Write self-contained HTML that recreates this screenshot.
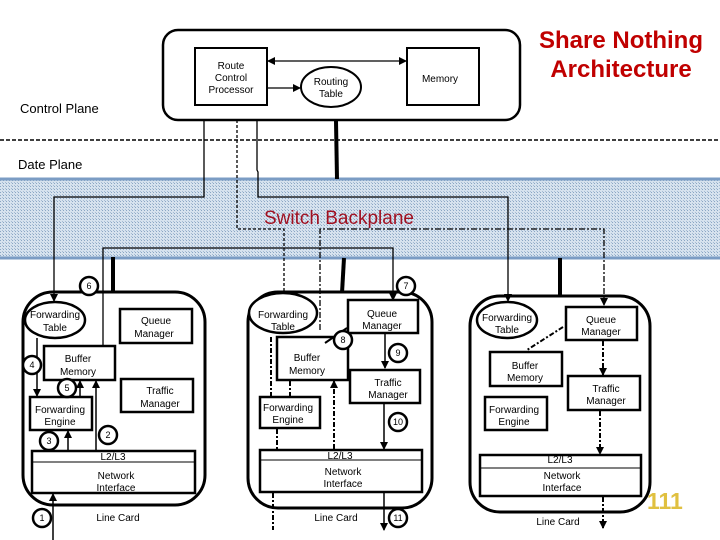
<!DOCTYPE html>
<html><head><meta charset="utf-8"><style>
html,body{margin:0;padding:0;background:#fff;width:720px;height:540px;overflow:hidden}
svg{display:block;font-family:"Liberation Sans",sans-serif}
</style></head><body>
<svg width="720" height="540" viewBox="0 0 720 540" xmlns="http://www.w3.org/2000/svg">
<defs>
<pattern id="h" width="3" height="3" patternUnits="userSpaceOnUse"><rect width="3" height="3" fill="#d6e2ee"/><rect width="1" height="1" fill="#8aa6c4"/><rect x="2" y="2" width="1" height="1" fill="#a6bcd4"/></pattern>
<marker id="a" markerWidth="8" markerHeight="8" refX="7" refY="4" orient="auto" markerUnits="userSpaceOnUse"><path d="M0,0 L8,4 L0,8 z" fill="#000"/></marker>
<marker id="s" markerWidth="8" markerHeight="8" refX="1" refY="4" orient="auto" markerUnits="userSpaceOnUse"><path d="M8,0 L0,4 L8,8 z" fill="#000"/></marker>
</defs>
<rect x="-2" y="179" width="724" height="79" fill="url(#h)" stroke="#7b9cc4" stroke-width="3"/>
<text x="264" y="224" font-size="19" fill="#a01020">Switch Backplane</text>
<rect x="163" y="30" width="357" height="90" rx="15" fill="#fff" stroke="#000" stroke-width="2.5"/>
<rect x="195" y="48" width="72" height="57" fill="none" stroke="#000" stroke-width="2"/>
<text font-size="10" text-anchor="middle"><tspan x="231" y="69">Route</tspan><tspan x="231" y="81">Control</tspan><tspan x="231" y="93">Processor</tspan></text>
<ellipse cx="331" cy="87" rx="30" ry="20" fill="none" stroke="#000" stroke-width="2"/>
<text font-size="10" text-anchor="middle"><tspan x="331" y="85">Routing</tspan><tspan x="331" y="97">Table</tspan></text>
<rect x="407" y="48" width="72" height="57" fill="none" stroke="#000" stroke-width="2"/>
<text x="440" y="82" font-size="10" text-anchor="middle">Memory</text>
<line x1="268" y1="61" x2="406" y2="61" stroke="#000" stroke-width="1.2" marker-end="url(#a)" marker-start="url(#s)"/>
<line x1="268" y1="88" x2="300" y2="88" stroke="#000" stroke-width="1.2" marker-end="url(#a)"/>
<text x="20" y="113" font-size="13">Control Plane</text>
<line x1="0" y1="140" x2="720" y2="140" stroke="#000" stroke-width="1.5" stroke-dasharray="4,2"/>
<text x="18" y="169" font-size="13">Date Plane</text>
<text font-size="24" font-weight="bold" fill="#c00000" text-anchor="middle"><tspan x="621" y="48">Share Nothing</tspan><tspan x="621" y="77">Architecture</tspan></text>
<line x1="336" y1="121" x2="337" y2="179" stroke="#000" stroke-width="4"/>
<g fill="none" stroke="#000" stroke-width="1.3">
<polyline points="204,120 204,197 54,197 54,301" marker-end="url(#a)"/>
<polyline points="237,120 237,229 284,229 284,300" stroke-dasharray="3,2" marker-end="url(#a)"/>
<polyline points="257,120 257,170 258,172 258,197 508,197 508,301" marker-end="url(#a)"/>
<polyline points="103,345 103,248 393,248 393,300" marker-end="url(#a)"/>
<polyline points="320,330 320,229 604,229 604,305" stroke-dasharray="6,2,2,2" marker-end="url(#a)"/>
</g>
<g stroke="#000" stroke-width="4">
<line x1="113" y1="257" x2="113" y2="293"/><line x1="344" y1="258" x2="342" y2="293"/><line x1="560" y1="258" x2="560" y2="297"/>
</g>
<g fill="none" stroke="#000" stroke-width="3">
<rect x="23" y="292" width="182" height="213" rx="30"/>
<rect x="248" y="292" width="184" height="216" rx="30"/>
<rect x="470" y="296" width="180" height="216" rx="30"/>
</g>
<g fill="#fff" stroke="#000" stroke-width="2.5">
<ellipse cx="55" cy="320" rx="30" ry="18"/>
<rect x="120" y="309" width="72" height="34"/>
<rect x="44" y="346" width="71" height="34"/>
<rect x="121" y="379" width="72" height="33"/>
<rect x="30" y="397" width="62" height="33"/>
<rect x="32" y="451" width="163" height="42"/>
<ellipse cx="283" cy="313" rx="34" ry="20"/>
<rect x="348" y="300" width="70" height="33"/>
<rect x="277" y="337" width="71" height="43"/>
<rect x="350" y="370" width="70" height="33"/>
<rect x="260" y="397" width="60" height="31"/>
<rect x="260" y="450" width="162" height="42"/>
<ellipse cx="507" cy="320" rx="30" ry="18"/>
<rect x="566" y="307" width="71" height="33"/>
<rect x="490" y="352" width="72" height="34"/>
<rect x="568" y="376" width="72" height="34"/>
<rect x="485" y="397" width="62" height="33"/>
<rect x="480" y="455" width="161" height="41"/>
</g>
<g stroke="#000" stroke-width="1"><line x1="33" y1="462" x2="194" y2="462"/><line x1="261" y1="460" x2="421" y2="460"/><line x1="481" y1="468" x2="640" y2="468"/></g>
<g font-size="10" text-anchor="middle">
<text><tspan x="55" y="318">Forwarding</tspan><tspan x="55" y="331">Table</tspan></text>
<text><tspan x="156" y="324">Queue</tspan><tspan x="154" y="337">Manager</tspan></text>
<text><tspan x="78" y="362">Buffer</tspan><tspan x="78" y="375">Memory</tspan></text>
<text><tspan x="160" y="394">Traffic</tspan><tspan x="160" y="407">Manager</tspan></text>
<text><tspan x="60" y="413">Forwarding</tspan><tspan x="60" y="425">Engine</tspan></text>
<text><tspan x="113" y="460">L2/L3</tspan><tspan x="116" y="479">Network</tspan><tspan x="116" y="491">Interface</tspan></text>
<text x="118" y="521">Line Card</text>
<text><tspan x="283" y="318">Forwarding</tspan><tspan x="283" y="330">Table</tspan></text>
<text><tspan x="382" y="317">Queue</tspan><tspan x="382" y="329">Manager</tspan></text>
<text><tspan x="307" y="361">Buffer</tspan><tspan x="307" y="374">Memory</tspan></text>
<text><tspan x="388" y="386">Traffic</tspan><tspan x="388" y="398">Manager</tspan></text>
<text><tspan x="288" y="411">Forwarding</tspan><tspan x="288" y="423">Engine</tspan></text>
<text><tspan x="340" y="459">L2/L3</tspan><tspan x="343" y="475">Network</tspan><tspan x="343" y="487">Interface</tspan></text>
<text x="336" y="521">Line Card</text>
<text><tspan x="507" y="321">Forwarding</tspan><tspan x="507" y="333">Table</tspan></text>
<text><tspan x="601" y="323">Queue</tspan><tspan x="601" y="335">Manager</tspan></text>
<text><tspan x="525" y="369">Buffer</tspan><tspan x="525" y="381">Memory</tspan></text>
<text><tspan x="606" y="392">Traffic</tspan><tspan x="606" y="404">Manager</tspan></text>
<text><tspan x="514" y="413">Forwarding</tspan><tspan x="514" y="425">Engine</tspan></text>
<text><tspan x="560" y="463">L2/L3</tspan><tspan x="562" y="479">Network</tspan><tspan x="562" y="491">Interface</tspan></text>
<text x="558" y="525">Line Card</text>
</g>
<g fill="none" stroke="#000" stroke-width="1.5">
<line x1="37" y1="338" x2="37" y2="396" marker-end="url(#a)"/>
<line x1="68" y1="450" x2="68" y2="431" marker-end="url(#a)"/>
<line x1="80" y1="396" x2="80" y2="381" marker-end="url(#a)"/>
<line x1="96" y1="450" x2="96" y2="381" marker-end="url(#a)"/>
<line x1="53" y1="540" x2="53" y2="494" marker-end="url(#a)"/>
<line x1="385" y1="334" x2="385" y2="368" marker-end="url(#a)"/>
<line x1="384" y1="404" x2="384" y2="449" marker-end="url(#a)"/>
<line x1="384" y1="493" x2="384" y2="530" marker-end="url(#a)"/>
<line x1="347" y1="328" x2="325" y2="343" stroke-width="2"/>
</g>
<g fill="none" stroke="#000" stroke-width="2" stroke-dasharray="5,2,2,2">
<line x1="271" y1="337" x2="271" y2="397"/>
<line x1="290" y1="381" x2="290" y2="397"/>
<line x1="277" y1="429" x2="277" y2="450"/>
<line x1="334" y1="449" x2="334" y2="381" marker-end="url(#a)"/>
<line x1="273" y1="493" x2="273" y2="530"/>
<line x1="603" y1="341" x2="603" y2="375" marker-end="url(#a)"/>
<line x1="600" y1="411" x2="600" y2="454" marker-end="url(#a)"/>
<line x1="603" y1="497" x2="603" y2="528" marker-end="url(#a)"/>
<line x1="563" y1="327" x2="527" y2="350"/>
</g>
<g fill="#fff" stroke="#000" stroke-width="2.5">
<circle cx="89" cy="286" r="9"/><circle cx="32" cy="365" r="9"/><circle cx="67" cy="388" r="9"/><circle cx="49" cy="441" r="9"/><circle cx="108" cy="435" r="9"/><circle cx="42" cy="518" r="9"/>
<circle cx="406" cy="286" r="9"/><circle cx="343" cy="340" r="9"/><circle cx="398" cy="353" r="9"/><circle cx="398" cy="422" r="9"/><circle cx="398" cy="518" r="9"/>
</g>
<g font-size="9" text-anchor="middle">
<text x="89" y="289">6</text><text x="32" y="368">4</text><text x="67" y="391">5</text><text x="49" y="444">3</text><text x="108" y="438">2</text><text x="42" y="521">1</text>
<text x="406" y="289">7</text><text x="343" y="343">8</text><text x="398" y="356">9</text><text x="398" y="425">10</text><text x="398" y="521">11</text>
</g>
<text x="647" y="509" font-size="23" font-weight="bold" fill="#e0c040">111</text>
</svg>
</body></html>
